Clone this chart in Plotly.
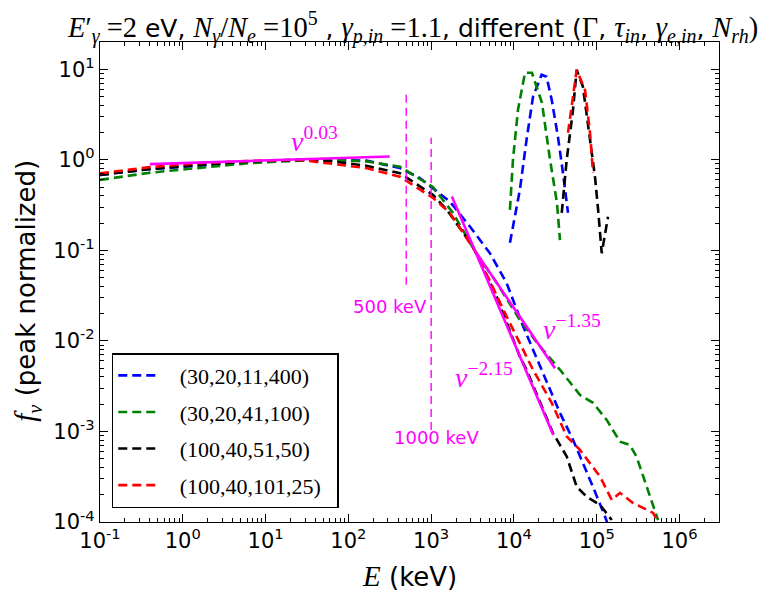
import numpy as np
import plotly.graph_objects as go

# ---------------- data ----------------
legend_labels = ["(30,20,11,400)", "(30,20,41,100)", "(100,40,51,50)", "(100,40,101,25)"]
colors = ["#0000ff", "#008000", "#000000", "#ff0000"]

blue_E = [0.1, 0.4, 1.6, 6.4, 26, 65, 165, 420, 730, 1050, 1680, 2940, 5130, 8170, 12950,
          22400, 36000, 51700, 68400, 90200, 126000, 145000,
          None, 8950, 11800, 14200, 17000, 21600, 24800, 28600, 34000, 39100, 45000]
blue_f = [0.68, 0.79, 0.86, 0.96, 1.0, 1.0, 0.98, 0.81, 0.63, 0.48, 0.346, 0.183, 0.093, 0.0434, 0.0144,
          0.00443, 0.0016, 0.00081, 0.00045, 0.000244, 0.000115, 0.00008,
          None, 0.121, 0.466, 1.66, 4.97, 8.7, 8.26, 4.6, 1.8, 0.72, 0.26]

green_E = [0.1, 0.4, 1.6, 6.4, 26, 65, 165, 420, 1050, 1830, 3470, 6000, 11800, 20000, 36000,
           62800, 90200, 132000, 191000, 251000, 302000, 403000, 551000,
           None, 8950, 9730, 11200, 13600, 16500, 21800, 27300, 33100, 36000]
green_f = [0.60, 0.72, 0.815, 0.92, 0.98, 1.0, 0.96, 0.84, 0.50, 0.26, 0.094, 0.046, 0.017, 0.009, 0.0048,
           0.00253, 0.00207, 0.00134, 0.00077, 0.00071, 0.00053, 0.000245, 0.000105,
           None, 0.28, 1.0, 3.57, 9.15, 9.15, 4.26, 1.0, 0.335, 0.13]

black_E = [0.1, 0.4, 1.6, 6.4, 26, 65, 165, 420, 1050, 1550, 3200, 6180, 11800, 14200, 29600,
           43400, 57300, 75700, 110000, 152000,
           None, 37800, 43400, 51700, 57300, 68200, 83000, 95300, 104000, 115000, 137000]
black_f = [0.68, 0.79, 0.88, 0.96, 1.0, 0.96, 0.86, 0.71, 0.41, 0.28, 0.110, 0.0309, 0.0067, 0.0048, 0.00096,
           0.00053, 0.000245, 0.00019, 0.000154, 0.000105,
           None, 0.26, 1.0, 3.57, 9.87, 6.4, 1.8, 0.65, 0.28, 0.093, 0.235]

red_E = [0.1, 0.4, 1.6, 6.4, 26, 65, 165, 420, 1050, 1680, 3540, 8170, 17000, 28600, 43400,
         62800, 110000, 152000, 191000, 275000, 480000, 535000,
         None, 45000, 57300, 72300, 83000, 90200]
red_f = [0.71, 0.83, 0.92, 0.97, 1.0, 0.90, 0.81, 0.65, 0.38, 0.26, 0.093, 0.0186, 0.0048, 0.00207, 0.00088,
         0.000625, 0.000316, 0.000175, 0.00021, 0.000162, 0.000126, 0.000105,
         None, 1.99, 9.87, 5.9, 1.99, 0.72]

# power-law guide lines
pl003_E, pl003_f = [0.40, 316], [0.896, 1.088]
pl135_E, pl135_f = [3540, 31300], [0.093, 0.00499]
pl215_E, pl215_f = [1780, 29900], [0.394, 0.000914]
# vertical markers
v500_E, v500_f = [500, 500], [0.0416, 5.93]
v1000_E, v1000_f = [1000, 1000], [0.00104, 1.75]

x_ticks = [0.1, 1, 10, 100, 1e3, 1e4, 1e5, 1e6]
x_ticktext = ["10<sup>-1</sup>", "10<sup>0</sup>", "10<sup>1</sup>", "10<sup>2</sup>",
              "10<sup>3</sup>", "10<sup>4</sup>", "10<sup>5</sup>", "10<sup>6</sup>"]
y_ticks = [1e-4, 1e-3, 1e-2, 1e-1, 1, 10]
y_ticktext = ["10<sup>-4</sup>", "10<sup>-3</sup>", "10<sup>-2</sup>", "10<sup>-1</sup>",
              "10<sup>0</sup>", "10<sup>1</sup>"]

# ---------------- figure ----------------
SERIF = "Liberation Serif"
SANS = "DejaVu Sans"
MAG = "#ff00ff"


def m(s, size=None):
    st = f"font-family:{SERIF}" + (f";font-size:{size}px" if size else "")
    return f"<span style='{st}'>{s}</span>"


fig = go.Figure()
series = [(blue_E, blue_f), (green_E, green_f), (black_E, black_f), (red_E, red_f)]
for i, ((E, f), lab, c) in enumerate(zip(series, legend_labels, colors)):
    fig.add_trace(go.Scatter(x=E, y=f, mode="lines", name="&nbsp;&nbsp;&nbsp;" + lab + "&nbsp;&nbsp;",
                             legendgroup=f"g{i}",
                             line=dict(color=c, width=2.6, dash="9px,5px"), connectgaps=False))

for E, f in [(pl003_E, pl003_f), (pl135_E, pl135_f), (pl215_E, pl215_f)]:
    fig.add_trace(go.Scatter(x=E, y=f, mode="lines", showlegend=False,
                             line=dict(color=MAG, width=2.6)))
for E, f in [(v500_E, v500_f), (v1000_E, v1000_f)]:
    fig.add_trace(go.Scatter(x=E, y=f, mode="lines", showlegend=False,
                             line=dict(color=MAG, width=1.4, dash="8px,5px")))

annots = [
    (39, 1.66, "<i>ν</i><sup>0.03</sup>"),
    (50200, 0.0139, "<i>ν</i><sup>−1.35</sup>"),
    (4340, 0.0042, "<i>ν</i><sup>−2.15</sup>"),
]
for x, y, t in annots:
    fig.add_annotation(x=np.log10(x), y=np.log10(y), text=t, showarrow=False,
                       font=dict(color=MAG, size=28, family=SERIF), xref="x", yref="y")
fig.add_annotation(x=np.log10(316), y=np.log10(0.0238), text="500 keV", showarrow=False,
                   font=dict(color=MAG, size=18, family=SANS))
fig.add_annotation(x=np.log10(1170), y=np.log10(0.00085), text="1000 keV", showarrow=False,
                   font=dict(color=MAG, size=18, family=SANS))

MS = 28.5
title = (m("<i>E</i>′<sub><i>γ</i></sub> =2", MS) + " eV, " +
         m("<i>N<sub>γ</sub></i>/<i>N<sub>e</sub></i> =10<sup>5</sup>", MS) + " , " +
         m("<i>γ<sub>p,in</sub></i> =1.1", MS) + ", different (" + m("Γ", MS) + ", " +
         m("<i>τ<sub>in</sub></i>", MS) + ", " + m("<i>γ<sub>e,in</sub></i>", MS) + ", " +
         m("<i>N<sub>rh</sub></i>)", MS))
fig.add_annotation(xref="paper", yref="paper", x=0.505, y=1.03, text=title, showarrow=False,
                   font=dict(size=25, family=SANS, color="black"), xanchor="center", yanchor="middle")
fig.add_annotation(xref="paper", yref="paper", x=0.500, y=-0.112,
                   text=m("<i>E</i>", 29) + " (keV)", showarrow=False,
                   font=dict(size=26, family=SANS, color="black"), xanchor="center", yanchor="middle")
fig.add_annotation(xref="paper", yref="paper", x=-0.117, y=0.481,
                   text=m("<i>f<sub>ν</sub></i>", 29) + " (peak normalized)", showarrow=False, textangle=-90,
                   font=dict(size=26, family=SANS, color="black"), xanchor="center", yanchor="middle")

axis_common = dict(showgrid=False, zeroline=False, showline=True, linecolor="black", linewidth=1.2,
                   mirror="allticks", ticks="inside", ticklen=8, tickwidth=1, tickcolor="black",
                   tickfont=dict(size=21, family=SANS, color="black"))
fig.update_xaxes(type="log", range=[-1, np.log10(3e6)], tickvals=x_ticks, ticktext=x_ticktext,
                 minor=dict(ticks="inside", ticklen=4, tickcolor="black", dtick="D1", showgrid=False),
                 **axis_common)
fig.update_yaxes(type="log", range=[-4, np.log10(20)], tickvals=y_ticks, ticktext=y_ticktext,
                 minor=dict(ticks="inside", ticklen=4, tickcolor="black", dtick="D1", showgrid=False),
                 **axis_common)

# page body has an 8px default margin: figure is 762x594 so the plot area lands at 100..719 x 42..522
fig.update_layout(
    width=762, height=594,
    margin=dict(l=92, r=51, t=34, b=80),
    plot_bgcolor="white", paper_bgcolor="white",
    showlegend=True,
    legend=dict(x=0.019, y=0.352, xanchor="left", yanchor="top",
                bgcolor="white", bordercolor="black", borderwidth=1.5,
                font=dict(size=22, family=SERIF, color="black"),
                tracegroupgap=5, traceorder="grouped", itemwidth=40),
)

fig.write_html("out.html")
